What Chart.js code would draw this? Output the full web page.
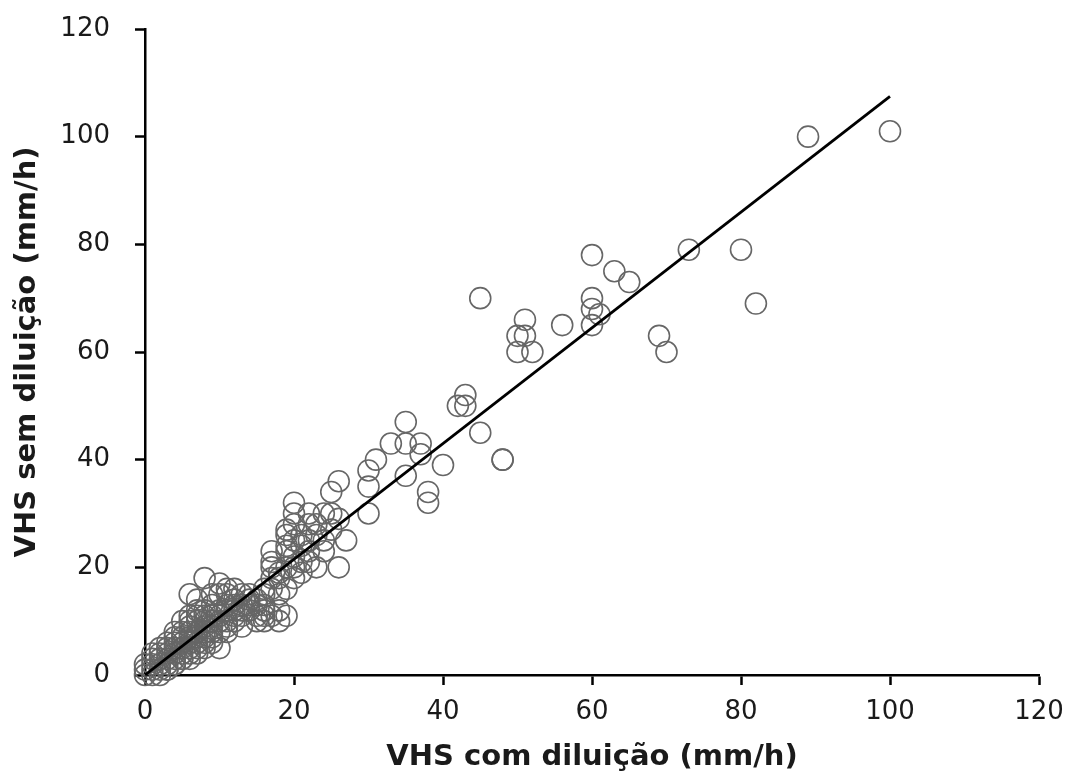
<!DOCTYPE html>
<html>
<head>
<meta charset="utf-8">
<script src="https://cdn.jsdelivr.net/npm/chart.js@4.4.1/dist/chart.umd.min.js"></script>
<style>
html, body { margin: 0; padding: 0; background: #fff; }
#wrap { width: 1072px; height: 783px; }
</style>
</head>
<body>
<div id="wrap"><canvas id="myChart" width="1072" height="783"></canvas></div>
<script>
// VHS com diluição (x) / VHS sem diluição (y), mm/h
var comDiluicao = [89, 100, 73, 80, 82, 60, 63, 65, 60, 60, 61, 60, 56, 69, 70, 51, 50, 51, 50, 52, 45,
    43, 42, 43, 45, 48, 48, 35, 33, 35, 37, 37, 40, 35, 38, 38, 31, 30, 30, 30,
    26, 25, 20, 27, 26, 20, 22, 24, 25, 19, 22, 23, 17, 19, 22, 24, 17, 19, 23, 21,
    16, 19, 18, 20, 19, 20, 17, 18, 20, 21, 22, 23, 20, 21, 22, 25, 26, 18, 18, 18,
    15, 16, 19, 16, 14, 16, 13, 12, 11, 10, 10, 11, 9, 8, 6, 7, 9, 8, 10, 12,
    15, 14, 12, 5, 6, 7, 10, 10, 13, 15, 17, 14, 16, 12, 11, 11, 13, 12, 11, 10,
    9, 9, 9, 8, 8, 8, 7, 7, 7, 6, 6, 6, 6, 5, 5, 5, 5, 4, 4, 4,
    4, 3, 3, 3, 2, 2, 2, 1, 1, 1, 0, 0, 3, 4, 5, 6, 7, 8, 9, 2,
    1, 2, 3, 4, 5, 6, 7, 8, 9, 10, 8, 4, 3, 2, 12, 14, 15, 17, 16, 13,
    11, 9, 8, 7, 6, 5, 4, 3, 0, 1, 6, 7, 11, 13, 19, 21, 24, 17, 20];
var semDiluicao = [100, 101, 79, 79, 69, 78, 75, 73, 70, 68, 67, 65, 65, 63, 60, 66, 63, 63, 60, 60, 70,
    52, 50, 50, 45, 40, 40, 47, 43, 43, 43, 41, 39, 37, 34, 32, 40, 38, 35, 30,
    36, 34, 32, 25, 20, 30, 30, 30, 30, 27, 28, 28, 23, 24, 23, 23, 20, 20, 20, 21,
    16, 16, 18, 18, 26, 28, 21, 19, 22, 24, 25, 26, 20, 19, 21, 27, 29, 15, 12, 10,
    10, 11, 11, 12, 13, 15, 15, 16, 16, 17, 15, 15, 15, 18, 15, 14, 13, 11, 11, 13,
    13, 12, 11, 10, 10, 11, 8, 5, 12, 14, 16, 15, 13, 12, 12, 10, 11, 10, 9, 10,
    10, 9, 8, 9, 8, 7, 8, 7, 6, 8, 7, 6, 5, 7, 6, 5, 4, 6, 5, 4,
    3, 4, 3, 2, 3, 2, 1, 2, 1, 0, 1, 0, 1, 2, 3, 4, 5, 6, 7, 0,
    3, 5, 6, 7, 8, 9, 10, 10, 11, 12, 12, 8, 5, 4, 14, 14, 11, 11, 10, 9,
    8, 6, 5, 4, 3, 3, 2, 1, 2, 4, 11, 12, 13, 13, 23, 26, 25, 18, 25];
var linhaX = [0, 100];
var linhaY = [0, 107.5];
var eixoMin = 0;
var eixoMax = 120;
var eixoPasso = 20;

var pontos = comDiluicao.map(function(x, i){ return {x: x, y: semDiluicao[i]}; });
var linha = linhaX.map(function(x, i){ return {x: x, y: linhaY[i]}; });

var fonteTicks = {family: 'DejaVu Sans', size: 26};
var fonteTitulo = {family: 'DejaVu Sans', size: 29, weight: 'bold'};

var ctx = document.getElementById('myChart').getContext('2d');
var myChart = new Chart(ctx, {
    type: 'scatter',
    data: {
        datasets: [{
            type: 'line',
            label: 'Regressão',
            data: linha,
            borderColor: '#000',
            borderWidth: 2.8,
            pointRadius: 0,
            fill: false,
            order: 0
        },
        {
            label: 'VHS',
            data: pontos,
            backgroundColor: 'transparent',
            borderColor: '#666',
            borderWidth: 1.6,
            pointRadius: 10.5,
            pointHoverRadius: 10.5,
            clip: false,
            order: 1
        }]
    },
    options: {
        responsive: false,
        animation: false,
        layout: {padding: {top: 29, right: 33, bottom: 0, left: 0}},
        plugins: {legend: {display: false}, tooltip: {enabled: false}},
        scales: {
            x: {
                type: 'linear',
                min: eixoMin,
                max: eixoMax,
                ticks: {stepSize: eixoPasso, color: '#1a1a1a', font: fonteTicks, padding: 12, maxRotation: 0},
                grid: {drawOnChartArea: false, drawTicks: true, tickLength: 10, color: '#000', tickWidth: 2.5},
                border: {display: true, color: '#000', width: 2.5},
                title: {display: true, text: 'VHS com diluição (mm/h)', color: '#1a1a1a', font: fonteTitulo, padding: {top: 4, bottom: 8}},
                afterFit: function(s){ s.height = 108; s.paddingLeft = 0; s.paddingRight = 0; }
            },
            y: {
                type: 'linear',
                min: eixoMin,
                max: eixoMax,
                ticks: {stepSize: eixoPasso, color: '#1a1a1a', font: fonteTicks, padding: 25},
                grid: {drawOnChartArea: false, drawTicks: true, tickLength: 10, color: '#000', tickWidth: 2.5},
                border: {display: true, color: '#000', width: 2.5},
                title: {display: true, text: 'VHS sem diluição (mm/h)', color: '#1a1a1a', font: fonteTitulo, padding: {top: 10, bottom: 0}},
                afterFit: function(s){ s.width = 145; s.paddingTop = 0; s.paddingBottom = 0; }
            }
        }
    }
});
</script>
</body>
</html>
